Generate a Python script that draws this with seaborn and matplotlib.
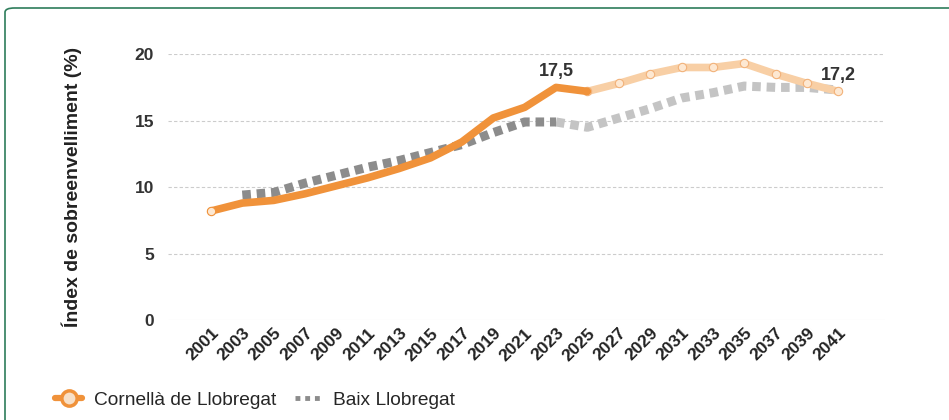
import pandas as pd
import seaborn as sns
import matplotlib.pyplot as plt
from matplotlib.lines import Line2D
from matplotlib.patches import FancyBboxPatch

sns.set_style('white')
plt.rcParams['font.family'] = ['Liberation Sans', 'DejaVu Sans']

years = list(range(2001, 2042, 2))
cornella = [8.2, 8.8, 9.0, 9.5, 10.1, 10.7, 11.4, 12.2, 13.4, 15.2, 16.0,
            17.5, 17.2, 17.8, 18.5, 19.0, 19.0, 19.3, 18.5, 17.8, 17.2]
baix_years = years[1:]
baix = [9.4, 9.6, 10.3, 10.9, 11.5, 12.0, 12.6, 13.2, 14.1, 14.9,
        14.9, 14.5, 15.2, 15.9, 16.7, 17.1, 17.6, 17.5, 17.5, 17.3]
last_real = 2025
last_real_baix = 2023

df_c = pd.DataFrame({"year": years, "value": cornella})
df_b = pd.DataFrame({"year": baix_years, "value": baix})

orange = "#f0923a"
orange_light = "#f8cfa5"
grey = "#8c8c8c"
grey_light = "#c4c4c4"

fig = plt.figure(figsize=(9.49, 4.2), dpi=100)
ax = fig.add_axes([0.177, 0.238, 0.756, 0.633])

# Baix Llobregat (dotted)
b_obs = df_b[df_b.year <= last_real_baix]
b_proj = df_b[df_b.year >= last_real_baix]
sns.lineplot(data=b_proj, x="year", y="value", ax=ax, color=grey_light,
             lw=6.5, zorder=2)
sns.lineplot(data=b_obs, x="year", y="value", ax=ax, color=grey,
             lw=6.5, zorder=2)
for ln in ax.lines:
    ln.set_dashes((0.95, 0.65))
    ln.set_dash_capstyle('butt')

# Cornellà (solid)
c_obs = df_c[df_c.year <= last_real]
c_proj = df_c[df_c.year >= last_real]
sns.lineplot(data=c_proj, x="year", y="value", ax=ax, color=orange_light,
             lw=5.5, marker="o", markersize=6, markerfacecolor="#fde8d2",
             markeredgecolor="#f2b27a", markeredgewidth=0.8, zorder=3)
sns.lineplot(data=c_obs, x="year", y="value", ax=ax, color=orange,
             lw=5.5, zorder=4)
ax.plot([years[0]], [cornella[0]], marker="o", ms=6, mfc="#fde8d2",
        mec=orange, mew=0.8, zorder=5)

ax.text(2023, 17.5 + 0.55, "17,5", ha="center", va="bottom", fontsize=13,
        fontweight="bold", color="#333333")
ax.text(2041, 17.2 + 0.55, "17,2", ha="center", va="bottom", fontsize=13,
        fontweight="bold", color="#333333")

ax.set_xlim(1998.26, 2044.0)
ax.set_ylim(0, 20)
ax.set_yticks([0, 5, 10, 15, 20])
ax.set_xticks(years)
ax.set_xticklabels([str(y) for y in years], rotation=45, ha="right",
                   rotation_mode="anchor", fontsize=12.5, fontweight="bold",
                   color="#222222")
ax.set_yticklabels([str(v) for v in [0, 5, 10, 15, 20]], fontsize=12.5,
                   fontweight="bold", color="#333333")
ax.tick_params(axis="both", length=0)
ax.tick_params(axis="x", pad=4)
ax.tick_params(axis="y", pad=10)
ax.set_xlabel("")
ax.set_ylabel("Índex de sobreenvelliment (%)", fontsize=14,
              fontweight="bold", color="#222222", labelpad=38)
for y in [5, 10, 15, 20]:
    ax.axhline(y, color="#cccccc", lw=0.8, ls=(0, (3, 2)), zorder=0)
ax.axhline(0, color="#e3e3e3", lw=0.8, zorder=0)
sns.despine(ax=ax, left=True, bottom=True)

handles = [
    Line2D([], [], color=orange, lw=4.5, marker="o", ms=11,
           mfc="#f7e0c8", mec=orange, mew=2.5),
    Line2D([], [], color=grey, lw=3.5, ls=(0, (1, 1))),
]
fig.legend(handles, ["Cornellà de Llobregat", "Baix Llobregat"],
           loc="lower left", bbox_to_anchor=(0.04, -0.015), ncol=2,
           frameon=False, fontsize=13.8, handlelength=1.4,
           columnspacing=1.0, handletextpad=0.6)

border = FancyBboxPatch((5 / 949, -0.1), 1.2, 1.1 - 8 / 420,
                        boxstyle="round,pad=0,rounding_size=0.01",
                        transform=fig.transFigure, fill=False,
                        edgecolor="#2e7d5b", lw=1.2, clip_on=False)
fig.patches.append(border)

fig.savefig("out.png", dpi=100)
